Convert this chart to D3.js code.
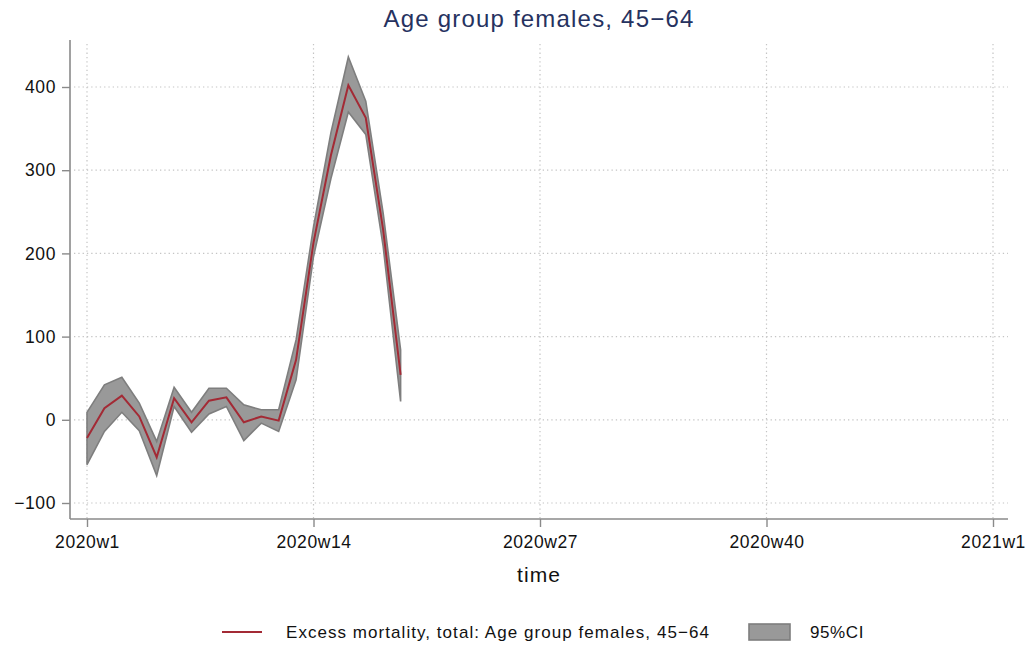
<!DOCTYPE html>
<html>
<head>
<meta charset="utf-8">
<script src="https://cdn.jsdelivr.net/npm/d3@7"></script>
<style>
  body { margin: 0; background: #fff; }
  svg { display: block; font-family: "Liberation Sans", Arial, Helvetica, sans-serif; }
</style>
</head>
<body>
<svg id="chart" width="1036" height="646"></svg>
<script>
// ---- data ----
const weeks = d3.range(0, 19); // 2020w1 .. 2020w19 (index from w1)
const excess = [-22, 14, 29, 4, -45, 26, -3, 23, 27, -3, 4, -1, 72, 213, 318, 402, 363, 228, 54];
const ciUpper = [9, 42, 51, 20, -26, 39, 9, 38, 38, 18, 12, 12, 96, 232, 345, 436, 383, 248, 84];
const ciLower = [-54, -14, 9, -13, -67, 16, -15, 7, 16, -25, -4, -14, 48, 196, 290, 370, 343, 208, 22];
const xTickValues = [0, 13, 26, 39, 52];
const xTickLabels = ["2020w1", "2020w14", "2020w27", "2020w40", "2021w1"];
const yTickValues = [-100, 0, 100, 200, 300, 400];
const titleText = "Age group females, 45\u221264";
const xAxisTitle = "time";
const legendLine = "Excess mortality, total: Age group females, 45\u221264";
const legendBand = "95%CI";

// ---- layout ----
const svg = d3.select("#chart");
const plot = { left: 70, right: 1008, top: 40, bottom: 519 };
const x = d3.scaleLinear().domain([0, 52]).range([87, 993]);
const y = d3.scaleLinear().domain([-100, 400]).range([503, 87]);

const gridColor = "#c4c4c4";
const axisColor = "#8a8a8a";
const lineColor = "#a32a35";
const bandFill = "#999999";
const bandStroke = "#7e7e7e";
const textColor = "#111";

// grid lines
const grid = svg.append("g");
grid.selectAll("line.hy").data(yTickValues).join("line")
  .attr("x1", plot.left + 4).attr("x2", plot.right)
  .attr("y1", d => y(d)).attr("y2", d => y(d))
  .attr("stroke", gridColor).attr("stroke-width", 1.2).attr("stroke-dasharray", "1.3,3");
grid.selectAll("line.vx").data(xTickValues).join("line")
  .attr("x1", d => x(d)).attr("x2", d => x(d))
  .attr("y1", plot.top + 4).attr("y2", plot.bottom)
  .attr("stroke", gridColor).attr("stroke-width", 1.2).attr("stroke-dasharray", "1.3,3");

// CI band
const bandData = weeks.map((w, i) => ({ w, lo: ciLower[i], hi: ciUpper[i] }));
const area = d3.area().x(d => x(d.w)).y0(d => y(d.lo)).y1(d => y(d.hi));
svg.append("path").datum(bandData)
  .attr("d", area)
  .attr("fill", bandFill).attr("stroke", bandStroke).attr("stroke-width", 1.6)
  .attr("stroke-linejoin", "miter");

// line
const lineData = weeks.map((w, i) => ({ w, v: excess[i] }));
svg.append("path").datum(lineData)
  .attr("d", d3.line().x(d => x(d.w)).y(d => y(d.v)))
  .attr("fill", "none").attr("stroke", lineColor).attr("stroke-width", 2);

// axes
const yAxis = d3.axisLeft(y).tickValues(yTickValues).tickSize(8).tickPadding(6)
  .tickFormat(d => d < 0 ? "\u2212" + Math.abs(d) : d);
const gy = svg.append("g").attr("transform", `translate(${plot.left},0)`).call(yAxis);
gy.select(".domain").attr("d", `M0,${plot.top}V${plot.bottom}`);

const xAxis = d3.axisBottom(x).tickValues(xTickValues).tickSize(8).tickPadding(6)
  .tickFormat((d, i) => xTickLabels[i]);
const gx = svg.append("g").attr("transform", `translate(0,${plot.bottom})`).call(xAxis);
gx.select(".domain").attr("d", `M${plot.left},0H${plot.right}`);

[gx, gy].forEach(g => {
  g.select(".domain").attr("stroke", axisColor).attr("stroke-width", 1.6);
  g.selectAll(".tick line").attr("stroke", axisColor).attr("stroke-width", 1.4);
  g.selectAll(".tick text").attr("fill", textColor)
    .style("font-size", "17.5px").style("letter-spacing", "0.6px")
    .style("font-family", "'Liberation Sans', Arial, sans-serif");
});
gx.selectAll(".tick text").attr("dy", "0.85em");

// title
svg.append("text").attr("x", 539).attr("y", 27).attr("text-anchor", "middle")
  .attr("fill", "#26325f").style("font-size", "24px").style("letter-spacing", "1.2px")
  .text(titleText);

// x axis title
svg.append("text").attr("x", 539).attr("y", 582).attr("text-anchor", "middle")
  .attr("fill", textColor).style("font-size", "21px").style("letter-spacing", "1.1px")
  .text(xAxisTitle);

// legend
const lg = svg.append("g");
lg.append("line").attr("x1", 222).attr("x2", 262).attr("y1", 632).attr("y2", 632)
  .attr("stroke", lineColor).attr("stroke-width", 2);
lg.append("text").attr("x", 286).attr("y", 638).attr("fill", textColor)
  .style("font-size", "17px").style("letter-spacing", "1.05px").text(legendLine);
lg.append("rect").attr("x", 749).attr("y", 624).attr("width", 41).attr("height", 16)
  .attr("fill", bandFill).attr("stroke", bandStroke).attr("stroke-width", 1.6);
lg.append("text").attr("x", 810).attr("y", 638).attr("fill", textColor)
  .style("font-size", "17px").style("letter-spacing", "0.6px").text(legendBand);
</script>
</body>
</html>
